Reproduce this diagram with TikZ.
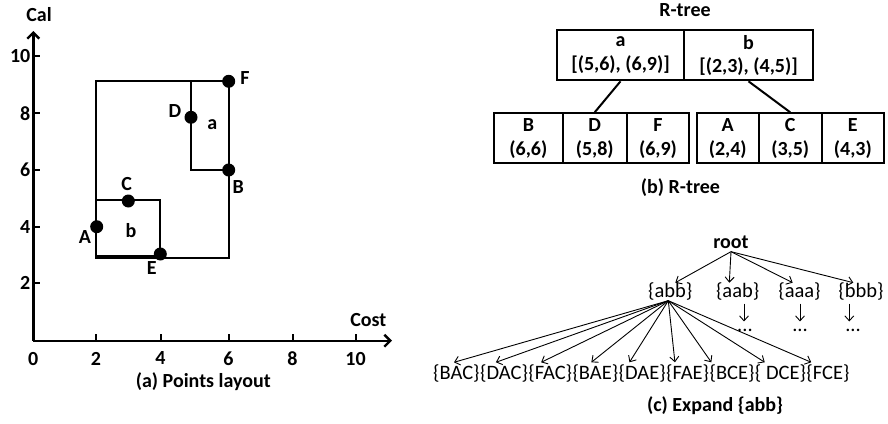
\documentclass[tikz,border=0pt]{standalone}
\usepackage{fontspec}
\setmainfont{Carlito}
\usetikzlibrary{arrows.meta,calc}
\begin{document}
\begin{tikzpicture}[x=1pt,y=-1pt,
  lbl/.style={font=\fontsize{20}{23}\selectfont\bfseries, inner sep=0pt},
  rlbl/.style={font=\fontsize{20.5}{23}\selectfont, inner sep=0pt},
  dot/.style={circle, fill=black, minimum size=13pt, inner sep=0pt},
  rline/.style={line width=2pt},
  axis/.style={line width=2.4pt, -{Straight Barb[length=6pt,width=12pt]}},
  cell/.style={draw, line width=2pt, minimum height=50pt, inner sep=0pt, align=center, font=\fontsize{20}{23.5}\selectfont\bfseries},
  arr/.style={line width=0.9pt, -{Straight Barb[length=5pt,width=9pt]}},
]
\useasboundingbox (0,0) rectangle (888,423);

% ---------- (a) Points layout ----------
\coordinate (O) at (33.3,340.7);
\coordinate (xend) at (392,340.7);
\coordinate (yend) at (33.3,31);
\draw[axis] (O) -- (xend);
\draw[axis] (O) -- (yend);
\foreach \x/\t in {96/2,160.5/4,228.5/6,292.5/8,355.5/10}{
  \draw[line width=2pt] (\x,340.7) -- (\x,333.5);
  \node[lbl, anchor=north] at (\x,351.7) {\t};
}
\node[lbl, anchor=north] (zero) at (33.3,351.7) {0};
\foreach \y/\t in {56/10,113.3/8,170/6,226.7/4,283.3/2}{
  \draw[line width=2pt] (33.3,\y) -- (39.5,\y);
  \node[lbl, anchor=east] at (30.5,\y) {\t};
}
\node[lbl] (cal) at (39,15) {Cal};
\node[lbl] (cost) at (368.3,320) {Cost};

\draw[rline] (96,81.3) rectangle (228.7,258);
\draw[rline] (191,81.3) -- (191,170) -- (228.7,170);
\draw[rline] (96,200.3) -- (160.3,200.3) -- (160.3,257);
\draw[line width=3pt] (96,256.5) -- (160.3,256.5);

\node[dot] (F) at (228.7,81.3) {};
\node[dot] (D) at (191,117.3) {};
\node[dot] (B) at (228.7,170) {};
\node[dot] (C) at (128.3,201) {};
\node[dot] (A) at (96.7,226.7) {};
\node[dot] (E) at (160.3,254) {};

\node[lbl] (lF) at (245,78.3) {F};
\node[lbl] (lD) at (175,110.7) {D};
\node[lbl] (la) at (212.3,124.3) {a};
\node[lbl] (lB) at (238.3,186.7) {B};
\node[lbl] (lC) at (126.7,184) {C};
\node[lbl] (lA) at (85,237.3) {A};
\node[lbl] (lb) at (131,230.7) {b};
\node[lbl] (lE) at (151.7,268.3) {E};

\node[lbl, anchor=base] (capa) at (203.3,387.3) {(a) Points layout};

% ---------- (b) R-tree ----------
\node[lbl, anchor=base] (rtitle) at (685,16.7) {R-tree};
\node[cell, minimum width=126.4pt] (na) at (620.5,55.3) {a\\{[}(5,6), (6,9)]};
\node[cell, minimum width=129.6pt] (nb) at (748.5,55.3) {b\\{[}(2,3), (4,5)]};
\node[cell, minimum width=68.7pt] (nB) at (528.35,138.3) {B\\(6,6)};
\node[cell, minimum width=64pt] (nD) at (594.7,138.3) {D\\(5,8)};
\node[cell, minimum width=62.6pt] (nF) at (658,138.3) {F\\(6,9)};
\node[cell, minimum width=62pt] (nA) at (727.7,138.3) {A\\(2,4)};
\node[cell, minimum width=63pt] (nC) at (790.2,138.3) {C\\(3,5)};
\node[cell, minimum width=62.3pt] (nE) at (852.85,138.3) {E\\(4,3)};
\draw[rline] (na.south) -- (nD.north);
\draw[rline] (nb.south) -- (nC.north);
\node[lbl, anchor=base] (capb) at (680.5,193.3) {(b) R-tree};

% ---------- (c) Expand {abb} ----------
\node[lbl, anchor=base] (root) at (731,248.3) {root};
\node[rlbl, anchor=base] (abb) at (670.3,297.7) {\{abb\}};
\node[rlbl, anchor=base] (aab) at (737.7,297.7) {\{aab\}};
\node[rlbl, anchor=base] (aaa) at (799.5,297.7) {\{aaa\}};
\node[rlbl, anchor=base] (bbb) at (861,297.7) {\{bbb\}};
\draw[arr] ([yshift=-3pt]root.south) -- ([xshift=5pt]abb.north);
\draw[arr] ([yshift=-3pt]root.south) -- ([xshift=-8.4pt]aab.north);
\draw[arr] ([yshift=-3pt]root.south) -- ([xshift=-6.8pt]aaa.north);
\draw[arr] ([yshift=-3pt]root.south) -- ([xshift=-7.7pt]bbb.north);

\node[rlbl, anchor=base] (d1) at (745,331) {...};
\node[rlbl, anchor=base] (d2) at (800,331) {...};
\node[rlbl, anchor=base] (d3) at (853,331) {...};
\draw[arr] ([xshift=6.3pt,yshift=-3pt]aab.south) -- ([xshift=-1pt,yshift=7pt]d1.north);
\draw[arr] ([xshift=0.5pt,yshift=-3pt]aaa.south) -- ([yshift=7pt]d2.north);
\draw[arr] ([xshift=-11.7pt,yshift=-3pt]bbb.south) -- ([xshift=-3.7pt,yshift=7pt]d3.north);

\node[rlbl, anchor=base west] (l1) at (433,379.3) {\{BAC\}};
\node[rlbl, anchor=base west] (l2) at (l1.base east) {\{DAC\}};
\node[rlbl, anchor=base west] (l3) at (l2.base east) {\{FAC\}};
\node[rlbl, anchor=base west] (l4) at (l3.base east) {\{BAE\}};
\node[rlbl, anchor=base west] (l5) at (l4.base east) {\{DAE\}};
\node[rlbl, anchor=base west] (l6) at (l5.base east) {\{FAE\}};
\node[rlbl, anchor=base west] (l7) at (l6.base east) {\{BCE\}};
\node[rlbl, anchor=base west] (l8) at (l7.base east) {\{ DCE\}};
\node[rlbl, anchor=base west] (l9) at (l8.base east) {\{FCE\}};
\coordinate (src) at ([xshift=-2pt]abb.south);
\foreach \n/\dx in {l1/21,l2/16,l3/13,l4/19,l5/11,l6/9,l7/2,l8/10,l9/5}{
  \draw[arr] (src) -- ([xshift=\dx pt,yshift=2pt]\n.north west);
}
\node[lbl, anchor=base] (capc) at (715,411) {(c) Expand \{abb\}};
\end{tikzpicture}
\end{document}
